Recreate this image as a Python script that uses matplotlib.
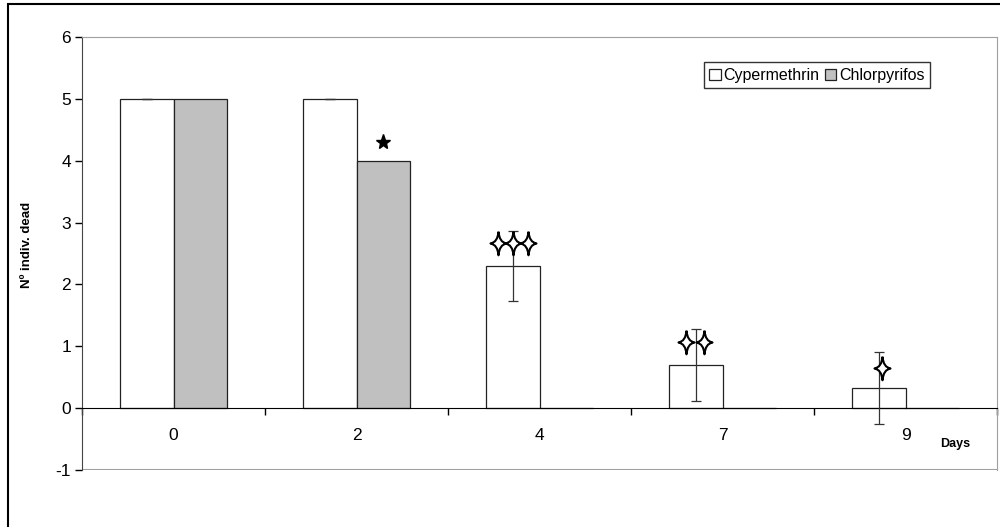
import numpy as np
import matplotlib
matplotlib.use("Agg")
import matplotlib.pyplot as plt
from matplotlib.path import Path
from matplotlib.patches import Rectangle

plt.rcParams["font.family"] = ["Liberation Sans", "DejaVu Sans"]
plt.rcParams["axes.unicode_minus"] = False

# data
days = ["0", "2", "4", "7", "9"]
cypermethrin = [5, 5, 2.3, 0.7, 0.33]
cyper_err = [0, 0, 0.57, 0.58, 0.58]
chlorpyrifos = [5, 4, 0, 0, 0]

# significance marks (height of marks, number of marks)
cyper_sig_y = [None, None, 2.67, 1.07, 0.65]
cyper_sig_n = [0, 0, 3, 2, 1]
chlor_sig_y = [None, 4.3, None, None, None]

# four-pointed star marker with concave sides, a bit taller than wide
pts = []
codes = []
tips = [(0, 1), (0.68, 0), (0, -1), (-0.68, 0), (0, 1)]
k = 0.1
for j in range(4):
    a, b = tips[j], tips[j + 1]
    if j == 0:
        pts.append(a)
        codes.append(Path.MOVETO)
    ctrl = (k * (a[0] + b[0]), k * (a[1] + b[1]))
    pts += [ctrl, b]
    codes += [Path.CURVE3, Path.CURVE3]
star4 = Path(pts, codes)

fig = plt.figure(figsize=(10, 5.27), dpi=100)
ax = fig.add_axes([0.082, 0.1082, 0.915, 0.8216])

x = np.arange(len(days))
w = 0.29
ax.bar(x - w / 2, cypermethrin, w, color="white", edgecolor="#222222",
       linewidth=0.9, label="Cypermethrin", zorder=2)
ax.bar(x + w / 2, chlorpyrifos, w, color="#C0C0C0", edgecolor="#222222",
       linewidth=0.9, label="Chlorpyrifos", zorder=2)
ax.errorbar(x - w / 2, cypermethrin, yerr=cyper_err, fmt="none",
            ecolor="#333333", elinewidth=0.9, capsize=3.5, capthick=0.9, zorder=3)

# stars
for i, (sy, n) in enumerate(zip(cyper_sig_y, cyper_sig_n)):
    if sy is None:
        continue
    if n == 3:
        offs = [-0.082, 0, 0.082]
    elif n == 2:
        offs = [-0.055, 0.045]
    else:
        offs = [0.015]
    for o in offs:
        ax.plot(x[i] - w / 2 + o, sy, marker=star4, markersize=17,
                markerfacecolor="white", markeredgecolor="black",
                markeredgewidth=1.5, linestyle="none", zorder=4)
for i, sy in enumerate(chlor_sig_y):
    if sy is None:
        continue
    ax.plot(x[i] + w / 2, sy, marker="*", markersize=11, color="black",
            linestyle="none", zorder=4)

ax.set_xlim(-0.5, len(days) - 0.5)
ax.set_ylim(-1, 6)
ax.set_yticks(range(-1, 7))
ax.tick_params(axis="y", direction="out", length=5, width=1, labelsize=12.5, pad=3)

ax.spines["bottom"].set_position(("data", 0))
ax.spines["bottom"].set_color("black")
ax.spines["left"].set_color("#444444")
for s in ["top", "right"]:
    ax.spines[s].set_color("#A0A0A0")
ax.axhline(-1, color="#A0A0A0", linewidth=1.5, zorder=1)
ax.set_xticks(x)
ax.set_xticklabels(days)
ax.set_xticks(np.arange(-0.5, len(days)), minor=True)
ax.tick_params(axis="x", which="major", length=0, labelsize=12.5, pad=14)
ax.tick_params(axis="x", which="minor", direction="out", length=5, width=1)

ax.set_ylabel("Nº indiv. dead", fontsize=9.5, fontweight="bold")
ax.yaxis.set_label_coords(-0.054, 0.52)
fig.text(0.955, 0.158, "Days", fontsize=9, fontweight="bold",
         ha="center", va="center")

leg = ax.legend(loc="upper right", bbox_to_anchor=(0.930, 0.882),
                bbox_transform=fig.transFigure, ncol=2, fontsize=11.5,
                frameon=True, fancybox=False, edgecolor="black",
                handlelength=0.7, handleheight=0.7, handletextpad=0.2,
                columnspacing=0.3, borderpad=0.35, borderaxespad=0)
leg.get_frame().set_linewidth(1)

# outer frame
fig.patches.append(Rectangle((0.008, -0.2), 1.2, 1.2 - 4 / 527,
                             transform=fig.transFigure, fill=False,
                             edgecolor="black", linewidth=1.5))

fig.savefig("out.png", dpi=100)
